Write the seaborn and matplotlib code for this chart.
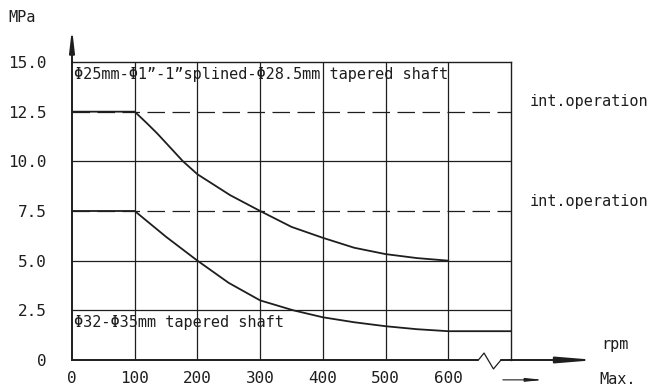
import numpy as np
import pandas as pd
import matplotlib
matplotlib.use("Agg")
import matplotlib.pyplot as plt
import seaborn as sns

# values
rpm_upper = [0, 100, 120, 136, 177, 200, 252, 300, 350, 400, 450, 500, 550, 600]
mpa_upper = [12.5, 12.5, 11.9, 11.4, 10.0, 9.35, 8.3, 7.5, 6.7, 6.15, 5.65, 5.33, 5.13, 5.0]
rpm_lower = [0, 100, 150, 200, 250, 300, 353, 400, 450, 500, 550, 600, 700]
mpa_lower = [7.5, 7.5, 6.2, 5.0, 3.88, 3.0, 2.5, 2.15, 1.9, 1.7, 1.55, 1.45, 1.45]

x_ticks = [0, 100, 200, 300, 400, 500, 600]
y_ticks = [0, 2.5, 5.0, 7.5, 10.0, 12.5, 15.0]
y_tick_labels = ["0", "2.5", "5.0", "7.5", "10.0", "12.5", "15.0"]
solid_levels = [2.5, 5.0, 10.0]
dashed_levels = [7.5, 12.5]

top_label = "Φ25mm-Φ1\u201d-1\u201dsplined-Φ28.5mm tapered shaft"
bottom_label = "Φ32-Φ35mm tapered shaft"
side_label = "int.operation"

sns.set_style("white")
plt.rcParams['font.family'] = ['DejaVu Sans Mono', 'DejaVu Sans']

ink = "#1e1e1e"
fig = plt.figure(figsize=(6.51, 3.91), dpi=100)
ax = fig.add_axes([72/651, 31/391, 439/651, 298/391])

df_up = pd.DataFrame({"rpm": rpm_upper, "MPa": mpa_upper})
df_lo = pd.DataFrame({"rpm": rpm_lower, "MPa": mpa_lower})
sns.lineplot(data=df_up, x="rpm", y="MPa", ax=ax, color=ink, lw=1.3, sort=False)
sns.lineplot(data=df_lo, x="rpm", y="MPa", ax=ax, color=ink, lw=1.3, sort=False)

ax.set_xlim(0, 700)
ax.set_ylim(0, 15)

# grid
for xv in x_ticks[1:]:
    ax.axvline(xv, color=ink, lw=0.9)
for yv in solid_levels:
    ax.axhline(yv, color=ink, lw=0.9)
for yv in dashed_levels:
    ax.axhline(yv, color=ink, lw=0.9, dashes=(14, 6))

for s in ax.spines.values():
    s.set_color(ink)
    s.set_linewidth(1.0)
ax.spines["bottom"].set_visible(False)
ax.spines["left"].set_linewidth(1.4)

ax.set_xticks(x_ticks)
ax.set_xticklabels([str(v) for v in x_ticks])
ax.set_yticks(y_ticks)
ax.set_yticklabels(y_tick_labels)
ax.tick_params(axis="both", length=0, labelsize=11.5, colors=ink)
ax.tick_params(axis="y", pad=18)
ax.tick_params(axis="x", pad=8)
ax.set_xlabel("")
ax.set_ylabel("")

# y axis arrow
ax.annotate("", xy=(0, 16.7), xytext=(0, 14.9), annotation_clip=False,
            arrowprops=dict(arrowstyle="-|>,head_length=1.3,head_width=0.15",
                            color=ink, lw=1.4, shrinkA=0, shrinkB=0))
# x axis with break
ax.plot([0, 648], [0, 0], color=ink, lw=1.4, clip_on=False)
ax.plot([648, 657, 672, 684], [0, 0.35, -0.45, 0], color=ink, lw=0.9, clip_on=False)
ax.annotate("", xy=(836, 0), xytext=(684, 0), annotation_clip=False,
            arrowprops=dict(arrowstyle="-|>,head_length=2.2,head_width=0.18",
                            color=ink, lw=1.4, shrinkA=0, shrinkB=0))
ax.annotate("", xy=(752, -1.0), xytext=(687, -1.0), annotation_clip=False,
            arrowprops=dict(arrowstyle="-|>,head_length=1.0,head_width=0.1",
                            color=ink, lw=0.8, shrinkA=0, shrinkB=0))

# labels
ax.text(3, 14.35, top_label, fontsize=11, color=ink, va="center", ha="left")
ax.text(3, 1.9, bottom_label, fontsize=11, color=ink, va="center", ha="left")
ax.text(730, 13.0, side_label, fontsize=11, color=ink, va="center", ha="left", clip_on=False)
ax.text(730, 8.0, side_label, fontsize=11, color=ink, va="center", ha="left", clip_on=False)

fig.text(8/651, 1 - 18/391, "MPa", fontsize=11, color=ink, va="center", ha="left")
fig.text(601/651, 1 - 345/391, "rpm", fontsize=11, color=ink, va="center", ha="left")
fig.text(599/651, 1 - 379/391, "Max.", fontsize=11, color=ink, va="center", ha="left")

fig.savefig("out.png", dpi=100)
